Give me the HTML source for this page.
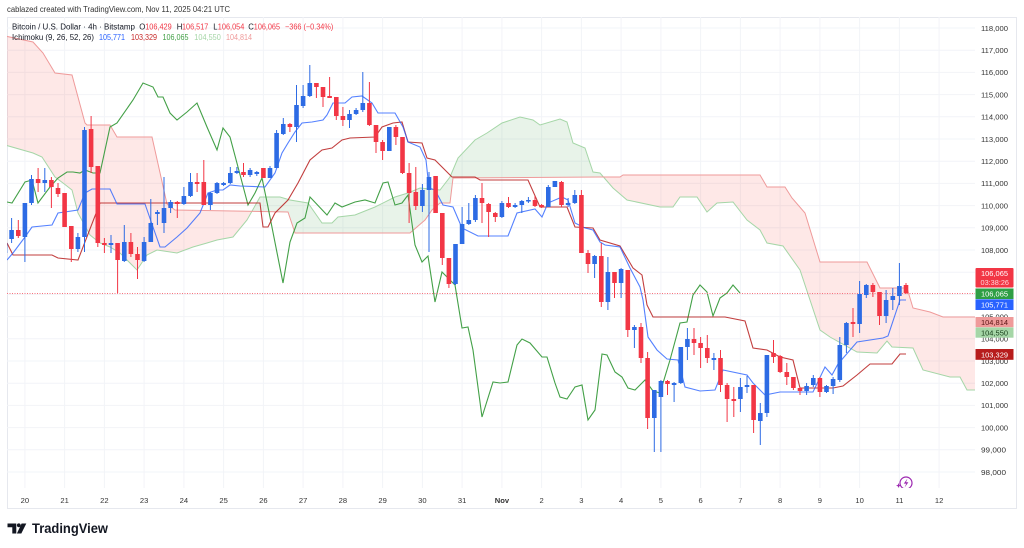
<!DOCTYPE html>
<html><head><meta charset="utf-8">
<style>
html,body{margin:0;padding:0;background:#fff;}
svg{display:block;font-family:"Liberation Sans",sans-serif;}
</style></head>
<body>
<svg width="1024" height="548" viewBox="0 0 1024 548" xmlns="http://www.w3.org/2000/svg">
<defs>
<clipPath id="pane"><rect x="7" y="17" width="968" height="471"/></clipPath>
<clipPath id="pinkL"><rect x="0" y="0" width="252" height="548"/></clipPath>
<clipPath id="pinkR"><rect x="603.5" y="0" width="380" height="548"/></clipPath>
<clipPath id="grn"><rect x="252" y="0" width="351.5" height="548"/></clipPath>
</defs>
<rect width="1024" height="548" fill="#fff"/>
<text x="7" y="12" font-size="8" fill="#333" textLength="223" lengthAdjust="spacingAndGlyphs">cablazed created with TradingView.com, Nov 11, 2025 04:21 UTC</text>
<rect x="7.5" y="17.5" width="1009" height="491" fill="none" stroke="#e6e8ee" stroke-width="1"/>

<g clip-path="url(#pane)">
<g stroke="#f2f4f8" stroke-width="1">
<path d="M7 28H975M7 50.2H975M7 72.4H975M7 94.6H975M7 116.8H975M7 139H975M7 161.2H975M7 183.4H975M7 205.6H975M7 227.8H975M7 250H975M7 272.2H975M7 294.4H975M7 316.6H975M7 338.8H975M7 361H975M7 383.2H975M7 405.4H975M7 427.6H975M7 449.8H975M7 472H975"/>
<path d="M24.9 17V488M64.6 17V488M104.4 17V488M144.1 17V488M183.9 17V488M223.6 17V488M263.4 17V488M303.1 17V488M342.9 17V488M382.6 17V488M422.4 17V488M462.1 17V488M501.9 17V488M541.6 17V488M581.4 17V488M621.1 17V488M660.9 17V488M700.6 17V488M740.4 17V488M780.1 17V488M819.9 17V488M859.6 17V488M899.4 17V488M939.1 17V488"/>
</g>

<!-- cloud -->
<g>
<path clip-path="url(#pinkL)" fill="#f44336" fill-opacity="0.12" d="M5 145L33 153L42 157L55 177L63 183L72 190L78 213L90 235L100 243L110 247L120 253L137 270L147 255L157 250L177 253L193 247L207 243L217 240L233 237L247 220L260 197L280 197L290 200L308 203L322 223L332 223L338 217L355 215L375 207L395 197L408 193L420 188L440 190L450 177L458 158L475 140L487 133L502 123L520 117L533 120L540 125L560 119L567 122L573 143L585 148L593 172L600 173L613 188L627 200L660 207L673 207L680 197L697 197L707 212L717 203L733 202L747 220L760 230L767 243L783 246L800 270L820 330L830 337L857 352L877 353L887 341L892 347L913 348L923 370L950 377L960 377L967 390L976 390L976 317L943 317L930 312L913 308L907 288L880 288L867 262L820 262L805 213L792 198L785 187L767 187L760 175L623 175L620 177L600 177L453 178L450 203L440 203L432 210L425 220L410 233L295 233L288 212L175 210L167 204L152 137L117 137L110 125L87 125L85 123L72 75L55 73L43 53L33 42L5 36Z"/>
<path clip-path="url(#pinkR)" fill="#f44336" fill-opacity="0.12" d="M5 145L33 153L42 157L55 177L63 183L72 190L78 213L90 235L100 243L110 247L120 253L137 270L147 255L157 250L177 253L193 247L207 243L217 240L233 237L247 220L260 197L280 197L290 200L308 203L322 223L332 223L338 217L355 215L375 207L395 197L408 193L420 188L440 190L450 177L458 158L475 140L487 133L502 123L520 117L533 120L540 125L560 119L567 122L573 143L585 148L593 172L600 173L613 188L627 200L660 207L673 207L680 197L697 197L707 212L717 203L733 202L747 220L760 230L767 243L783 246L800 270L820 330L830 337L857 352L877 353L887 341L892 347L913 348L923 370L950 377L960 377L967 390L976 390L976 317L943 317L930 312L913 308L907 288L880 288L867 262L820 262L805 213L792 198L785 187L767 187L760 175L623 175L620 177L600 177L453 178L450 203L440 203L432 210L425 220L410 233L295 233L288 212L175 210L167 204L152 137L117 137L110 125L87 125L85 123L72 75L55 73L43 53L33 42L5 36Z"/>
<path clip-path="url(#grn)" fill="#43a047" fill-opacity="0.12" d="M5 145L33 153L42 157L55 177L63 183L72 190L78 213L90 235L100 243L110 247L120 253L137 270L147 255L157 250L177 253L193 247L207 243L217 240L233 237L247 220L260 197L280 197L290 200L308 203L322 223L332 223L338 217L355 215L375 207L395 197L408 193L420 188L440 190L450 177L458 158L475 140L487 133L502 123L520 117L533 120L540 125L560 119L567 122L573 143L585 148L593 172L600 173L613 188L627 200L660 207L673 207L680 197L697 197L707 212L717 203L733 202L747 220L760 230L767 243L783 246L800 270L820 330L830 337L857 352L877 353L887 341L892 347L913 348L923 370L950 377L960 377L967 390L976 390L976 317L943 317L930 312L913 308L907 288L880 288L867 262L820 262L805 213L792 198L785 187L767 187L760 175L623 175L620 177L600 177L453 178L450 203L440 203L432 210L425 220L410 233L295 233L288 212L175 210L167 204L152 137L117 137L110 125L87 125L85 123L72 75L55 73L43 53L33 42L5 36Z"/>
</g>
<polyline fill="none" stroke="#a5d6a7" stroke-width="1" points="5,145 33,153 42,157 55,177 63,183 72,190 78,213 90,235 100,243 110,247 120,253 137,270 147,255 157,250 177,253 193,247 207,243 217,240 233,237 247,220 260,197 280,197 290,200 308,203 322,223 332,223 338,217 355,215 375,207 395,197 408,193 420,188 440,190 450,177 458,158 475,140 487,133 502,123 520,117 533,120 540,125 560,119 567,122 573,143 585,148 593,172 600,173 613,188 627,200 660,207 673,207 680,197 697,197 707,212 717,203 733,202 747,220 760,230 767,243 783,246 800,270 820,330 830,337 857,352 877,353 887,341 892,347 913,348 923,370 950,377 960,377 967,390 976,390"/>
<polyline fill="none" stroke="#ef9a9a" stroke-width="1" points="976,317 943,317 930,312 913,308 907,288 880,288 867,262 820,262 805,213 792,198 785,187 767,187 760,175 623,175 620,177 600,177 453,178 450,203 440,203 432,210 425,220 410,233 295,233 288,212 175,210 167,204 152,137 117,137 110,125 87,125 85,123 72,75 55,73 43,53 33,42 5,36"/>

<!-- lagging span -->
<polyline fill="none" stroke="#43a047" stroke-width="1.1" points="7,202 12,203 25,182 32,180 38,203 50,187 58,178 67,172 73,172 80,173 85,170 93,173 100,173 110,127 117,123 133,100 143,83 153,87 158,97 163,97 170,113 177,120 187,112 197,103 207,127 217,150 223,128 230,137 238,167 248,205 255,193 262,178 268,207 283,283 290,242 297,223 305,218 310,197 327,215 335,203 342,207 355,202 365,200 375,203 383,183 388,182 395,205 402,203 408,195 415,245 422,262 428,256 435,302 442,272 455,285 462,328 468,327 473,350 482,417 493,382 500,383 508,382 517,345 522,339 530,343 542,357 547,357 555,383 560,397 567,399 575,387 582,385 588,420 595,410 602,354 607,355 615,372 622,377 628,388 635,390 645,380 653,391 660,393 670,360 680,323 687,322 693,295 700,285 707,292 713,316 720,298 727,293 733,285 740,293"/>
<!-- kijun -->
<polyline fill="none" stroke="#b71c1c" stroke-opacity="0.85" stroke-width="1.1" points="7,243 13,255 52,255 58,258 78,260 100,203 260,203 263,227 268,227 275,213 288,200 298,183 310,160 322,150 332,148 342,140 350,138 375,137 382,127 393,123 402,122 408,142 422,143 427,158 435,160 452,177 475,177 480,180 528,180 540,207 567,207 575,227 593,228 600,240 620,246 633,268 642,275 647,305 653,317 725,317 745,321 753,348 767,350 780,357 793,360 800,388 833,388 843,386 857,375 870,364 892,364 900,354 906,354"/>
<!-- tenkan -->
<polyline fill="none" stroke="#2962ff" stroke-opacity="0.8" stroke-width="1.1" points="7,260 13,253 25,237 32,227 52,225 58,213 78,210 85,193 92,189 110,189 117,204 145,204 153,227 160,247 165,247 177,237 187,228 200,213 208,193 217,190 223,190 230,185 240,186 265,187 275,173 282,153 288,143 295,132 302,123 312,122 323,120 327,115 333,103 345,103 352,97 362,96 372,103 378,113 395,113 403,127 408,142 420,147 426,160 429,188 435,190 443,205 453,207 462,228 478,236 508,236 517,213 535,209 542,217 548,203 562,197 568,200 575,223 585,228 593,230 600,242 605,245 620,247 630,268 640,287 643,300 648,337 657,350 667,359 678,360 685,387 700,391 715,390 723,370 747,375 753,383 765,395 780,392 813,392 825,367 832,375 838,364 857,342 883,338 888,336 900,300 906,300"/>

<!-- current price line -->
<path d="M7 293.5H975" stroke="#f7707c" stroke-width="1" stroke-dasharray="1 1.5"/>

<!-- candles -->
<path fill="none" stroke="#2d6be4" stroke-width="1" d="M5 240V255M11.6 218V243M24.9 203V262M31.5 175V205M44.8 168V192M77.9 233V252M84.5 127V252M111 235V253M124.3 225V262M144.1 237V262M150.8 199V242M157.4 210V225M164 177V233M170.6 200V213M183.9 187V205M190.5 173V197M210.4 192V210M217 182V194M223.6 182V186M230.3 167V184M236.9 167V174M250.1 168V177M256.8 171V176M270 166V178M276.6 130V168M283.3 118V135M296.5 85V142M303.1 85V108M309.8 65V97M349.5 110V128M356.1 108V115M362.8 72V112M389.3 127V151M422.4 184V212M429 172V252M455.5 244V285M462.1 207V244M468.8 203V225M475.4 195V222M501.9 201V218M515.1 203V208M521.8 200V213M528.4 197V203M548.3 185V207M554.9 181V187M568.1 198V207M574.8 190V204M594.6 255V278M607.9 257V310M621.1 268V298M634.4 325V348M654.3 390V452M660.9 380V452M674.1 382V402M680.8 347V384M687.4 328V360M713.9 353V370M740.4 378V412M747 376V393M760.3 403V445M766.9 355V417M806.6 383V395M813.3 375V387M826.5 385V393M833.1 377V394M839.8 337V382M846.4 322V353M859.6 281V333M866.3 284V298M886.1 290V323M892.8 288V310M899.4 263V305"/>
<path fill="none" stroke="#f23645" stroke-width="1" d="M18.3 220V238M38.1 168V192M51.4 177V208M58 183V197M64.6 193V227M71.3 226V262M91.1 116V173M97.8 166V247M104.4 238V253M117.6 243V293M130.9 233V257M137.5 247V279M177.3 201V218M197.1 173V192M203.8 160V205M243.5 163V177M263.4 168V178M289.9 123V132M316.4 83V98M323 87V107M329.6 77V98M336.3 97V120M342.9 107V126M369.4 82V126M376 125V153M382.6 140V160M395.9 125V145M402.5 137V174M409.1 163V223M415.8 167V210M435.6 176V213M442.3 213V265M448.9 258V288M482 183V223M488.6 203V237M495.3 212V222M508.5 197V208M535 196V207M541.6 204V208M561.5 181V207M581.4 190V253M588 250V273M601.3 243V307M614.5 272V298M627.8 270V337M641 323V363M647.6 352V429M667.5 380V395M694 328V355M700.6 337V368M707.3 335V363M720.5 350V392M727.1 383V422M733.8 387V417M753.6 385V433M773.5 340V363M780.1 355V373M786.8 363V385M793.4 377V390M800 387V395M819.9 377V397M853 308V337M872.9 283V297M879.5 292V325M906 283V294"/>
<path fill="#2d6be4" d="M2.7 243h4.6V253h-4.6ZM9.3 230h4.6V239h-4.6ZM22.6 203h4.6V237h-4.6ZM29.2 179h4.6V203h-4.6ZM42.5 180h4.6V183h-4.6ZM75.6 237h4.6V249h-4.6ZM82.2 130h4.6V237h-4.6ZM108.7 243h4.6V245h-4.6ZM122 242h4.6V261h-4.6ZM141.8 242h4.6V261h-4.6ZM148.5 223h4.6V242h-4.6ZM155.1 212h4.6V214h-4.6ZM161.7 208h4.6V223h-4.6ZM168.3 202h4.6V208h-4.6ZM181.6 196h4.6V204h-4.6ZM188.2 182h4.6V196h-4.6ZM208.1 193h4.6V205h-4.6ZM214.7 183h4.6V193h-4.6ZM221.3 183h4.6V185h-4.6ZM228 173h4.6V183h-4.6ZM234.6 171h4.6V173h-4.6ZM247.8 170h4.6V175h-4.6ZM254.5 172h4.6V174h-4.6ZM267.7 168h4.6V178h-4.6ZM274.3 133h4.6V168h-4.6ZM281 124h4.6V134h-4.6ZM294.2 105h4.6V127h-4.6ZM300.8 96h4.6V106h-4.6ZM307.5 83h4.6V96h-4.6ZM347.2 114h4.6V120h-4.6ZM353.8 110h4.6V114h-4.6ZM360.5 103h4.6V110h-4.6ZM387 127h4.6V151h-4.6ZM420.1 190h4.6V206h-4.6ZM426.7 177h4.6V190h-4.6ZM453.2 244h4.6V284h-4.6ZM459.8 224h4.6V244h-4.6ZM466.5 220h4.6V224h-4.6ZM473.1 198h4.6V220h-4.6ZM499.6 203h4.6V217h-4.6ZM512.8 205h4.6V207h-4.6ZM519.5 201h4.6V205h-4.6ZM526.1 200h4.6V201.5h-4.6ZM546 187h4.6V207h-4.6ZM552.6 181h4.6V187h-4.6ZM565.8 203h4.6V205h-4.6ZM572.5 195h4.6V203h-4.6ZM592.3 256h4.6V264h-4.6ZM605.6 272h4.6V302h-4.6ZM618.8 269h4.6V283h-4.6ZM632.1 327h4.6V330h-4.6ZM652 390h4.6V418h-4.6ZM658.6 381h4.6V397h-4.6ZM671.8 383h4.6V385h-4.6ZM678.5 347h4.6V383h-4.6ZM685.1 339h4.6V347h-4.6ZM711.6 358h4.6V360h-4.6ZM738.1 387h4.6V399h-4.6ZM744.7 385h4.6V387h-4.6ZM758 413h4.6V421h-4.6ZM764.6 355h4.6V413h-4.6ZM804.3 386h4.6V391h-4.6ZM811 378h4.6V385h-4.6ZM824.2 386h4.6V392h-4.6ZM830.8 379h4.6V386h-4.6ZM837.5 345h4.6V380h-4.6ZM844.1 323h4.6V345h-4.6ZM857.3 294h4.6V324h-4.6ZM864 285h4.6V295h-4.6ZM883.8 300h4.6V316h-4.6ZM890.5 296h4.6V300h-4.6ZM897.1 286h4.6V296h-4.6Z"/>
<path fill="#f23645" d="M16 230h4.6V236h-4.6ZM35.8 179h4.6V183h-4.6ZM49.1 180h4.6V187h-4.6ZM55.7 188h4.6V194h-4.6ZM62.3 193h4.6V227h-4.6ZM69 226h4.6V249h-4.6ZM88.8 129h4.6V167h-4.6ZM95.5 166h4.6V243h-4.6ZM102.1 243h4.6V245h-4.6ZM115.3 243h4.6V260h-4.6ZM128.6 242h4.6V254h-4.6ZM135.2 254h4.6V260h-4.6ZM175 202h4.6V204h-4.6ZM194.8 182h4.6V184h-4.6ZM201.5 182h4.6V205h-4.6ZM241.2 172h4.6V175h-4.6ZM261.1 168h4.6V178h-4.6ZM287.6 124h4.6V127h-4.6ZM314.1 83h4.6V87h-4.6ZM320.7 87h4.6V97h-4.6ZM327.3 96h4.6V98h-4.6ZM334 97h4.6V116h-4.6ZM340.6 116h4.6V120h-4.6ZM367.1 103h4.6V125h-4.6ZM373.7 125h4.6V142h-4.6ZM380.3 142h4.6V151h-4.6ZM393.6 127h4.6V137h-4.6ZM400.2 137h4.6V173h-4.6ZM406.8 173h4.6V193h-4.6ZM413.5 192h4.6V206h-4.6ZM433.3 176h4.6V213h-4.6ZM440 213h4.6V258h-4.6ZM446.6 258h4.6V284h-4.6ZM479.7 198h4.6V203h-4.6ZM486.3 204h4.6V212h-4.6ZM493 213h4.6V217h-4.6ZM506.2 203h4.6V207h-4.6ZM532.7 200h4.6V206h-4.6ZM539.3 205h4.6V207h-4.6ZM559.2 182h4.6V205h-4.6ZM579.1 195h4.6V253h-4.6ZM585.7 253h4.6V264h-4.6ZM599 256h4.6V302h-4.6ZM612.2 272h4.6V283h-4.6ZM625.5 270h4.6V330h-4.6ZM638.7 327h4.6V358h-4.6ZM645.3 358h4.6V418h-4.6ZM665.2 381h4.6V384h-4.6ZM691.7 339h4.6V343h-4.6ZM698.3 343h4.6V348h-4.6ZM705 348h4.6V358h-4.6ZM718.2 358h4.6V385h-4.6ZM724.8 385h4.6V399h-4.6ZM731.5 399h4.6V401h-4.6ZM751.3 385h4.6V420h-4.6ZM771.2 353h4.6V357h-4.6ZM777.8 356h4.6V372h-4.6ZM784.5 372h4.6V377h-4.6ZM791.1 377h4.6V388h-4.6ZM797.7 388h4.6V391h-4.6ZM817.6 378h4.6V392h-4.6ZM850.7 322h4.6V324h-4.6ZM870.6 285h4.6V292h-4.6ZM877.2 292h4.6V316h-4.6ZM903.7 285h4.6V293h-4.6Z"/>

<!-- purple icon -->
<circle cx="906" cy="483" r="6" fill="#fff" stroke="#9c27b0" stroke-width="1.2"/>
<path d="M907.5 478.5L903.8 483.6H906.2L904.6 487.5L908.4 482.2H906L907.5 478.5Z" fill="#9c27b0"/>
<path d="M898.5 483L899.2 485L901 485.6L899.2 486.3L898.5 488L897.8 486.3L896 485.6L897.8 485Z" fill="#9c27b0"/>
</g>

<!-- legend -->
<g font-size="7.8">
<text x="12" y="29.5" fill="#131722" textLength="123" lengthAdjust="spacingAndGlyphs">Bitcoin / U.S. Dollar · 4h · Bitstamp</text>
<text x="139.3" y="29.5" fill="#131722">O</text><text x="145.2" y="29.5" fill="#f23645" textLength="26.5" lengthAdjust="spacingAndGlyphs">106,429</text>
<text x="176.7" y="29.5" fill="#131722">H</text><text x="182" y="29.5" fill="#f23645" textLength="26.3" lengthAdjust="spacingAndGlyphs">106,517</text>
<text x="213.3" y="29.5" fill="#131722">L</text><text x="217.8" y="29.5" fill="#f23645" textLength="26.5" lengthAdjust="spacingAndGlyphs">106,054</text>
<text x="248.3" y="29.5" fill="#131722">C</text><text x="253.8" y="29.5" fill="#f23645" textLength="26.2" lengthAdjust="spacingAndGlyphs">106,065</text>
<text x="285" y="29.5" fill="#f23645" textLength="48.3" lengthAdjust="spacingAndGlyphs">−366 (−0.34%)</text>
<text x="12" y="40.2" fill="#131722" textLength="82" lengthAdjust="spacingAndGlyphs">Ichimoku (9, 26, 52, 26)</text>
<text x="99" y="40.2" fill="#2962ff" textLength="26" lengthAdjust="spacingAndGlyphs">105,771</text>
<text x="131" y="40.2" fill="#c62828" textLength="26" lengthAdjust="spacingAndGlyphs">103,329</text>
<text x="162.5" y="40.2" fill="#43a047" textLength="26" lengthAdjust="spacingAndGlyphs">106,065</text>
<text x="194.3" y="40.2" fill="#a5d6a7" textLength="26.5" lengthAdjust="spacingAndGlyphs">104,550</text>
<text x="226" y="40.2" fill="#ef9a9a" textLength="26" lengthAdjust="spacingAndGlyphs">104,814</text>
</g>

<!-- price axis labels -->
<g font-size="7.6" fill="#333">
<text x="981" y="30.8" textLength="27" lengthAdjust="spacingAndGlyphs">118,000</text>
<text x="981" y="53" textLength="27" lengthAdjust="spacingAndGlyphs">117,000</text>
<text x="981" y="75.2" textLength="27" lengthAdjust="spacingAndGlyphs">116,000</text>
<text x="981" y="97.4" textLength="27" lengthAdjust="spacingAndGlyphs">115,000</text>
<text x="981" y="119.6" textLength="27" lengthAdjust="spacingAndGlyphs">114,000</text>
<text x="981" y="141.8" textLength="27" lengthAdjust="spacingAndGlyphs">113,000</text>
<text x="981" y="164" textLength="27" lengthAdjust="spacingAndGlyphs">112,000</text>
<text x="981" y="186.2" textLength="27" lengthAdjust="spacingAndGlyphs">111,000</text>
<text x="981" y="208.4" textLength="27" lengthAdjust="spacingAndGlyphs">110,000</text>
<text x="981" y="230.6" textLength="27" lengthAdjust="spacingAndGlyphs">109,000</text>
<text x="981" y="252.8" textLength="27" lengthAdjust="spacingAndGlyphs">108,000</text>
<text x="981" y="275" textLength="27" lengthAdjust="spacingAndGlyphs">107,000</text>
<text x="981" y="319.4" textLength="27" lengthAdjust="spacingAndGlyphs">105,000</text>
<text x="981" y="341.6" textLength="27" lengthAdjust="spacingAndGlyphs">104,000</text>
<text x="981" y="363.8" textLength="27" lengthAdjust="spacingAndGlyphs">103,000</text>
<text x="981" y="386" textLength="27" lengthAdjust="spacingAndGlyphs">102,000</text>
<text x="981" y="408.2" textLength="27" lengthAdjust="spacingAndGlyphs">101,000</text>
<text x="981" y="430.4" textLength="27" lengthAdjust="spacingAndGlyphs">100,000</text>
<text x="981" y="452.6" textLength="25" lengthAdjust="spacingAndGlyphs">99,000</text>
<text x="981" y="474.8" textLength="25" lengthAdjust="spacingAndGlyphs">98,000</text>
</g>

<!-- price tags -->
<g font-size="7.6">
<rect x="975.5" y="268" width="38" height="19.5" rx="1" fill="#f23645"/>
<text x="981" y="276" fill="#fff" textLength="27" lengthAdjust="spacingAndGlyphs">106,065</text>
<text x="980.5" y="285" fill="#ffd6da" textLength="28.5" lengthAdjust="spacingAndGlyphs">03:38:26</text>
<rect x="975.5" y="288.5" width="38" height="10.5" fill="#2e9e44"/>
<text x="981" y="296.6" fill="#fff" textLength="27" lengthAdjust="spacingAndGlyphs">106,065</text>
<rect x="975.5" y="299.3" width="38" height="10.7" fill="#2962ff"/>
<text x="981" y="307.5" fill="#fff" textLength="27" lengthAdjust="spacingAndGlyphs">105,771</text>
<rect x="975.5" y="317" width="38" height="10.2" fill="#ef9a9a"/>
<text x="981" y="325" fill="#5a1414" textLength="27" lengthAdjust="spacingAndGlyphs">104,814</text>
<rect x="975.5" y="327.4" width="38" height="10.3" fill="#a5d6a7"/>
<text x="981" y="335.5" fill="#173d19" textLength="27" lengthAdjust="spacingAndGlyphs">104,550</text>
<rect x="975.5" y="349" width="38" height="10.8" fill="#b71c1c"/>
<text x="981" y="357.3" fill="#fff" textLength="27" lengthAdjust="spacingAndGlyphs">103,329</text>
</g>

<!-- time axis -->
<g font-size="7.6" fill="#333" text-anchor="middle">
<text x="24.9" y="503">20</text><text x="64.6" y="503">21</text><text x="104.4" y="503">22</text><text x="144.1" y="503">23</text><text x="183.9" y="503">24</text><text x="223.6" y="503">25</text><text x="263.4" y="503">26</text><text x="303.1" y="503">27</text><text x="342.9" y="503">28</text><text x="382.6" y="503">29</text><text x="422.4" y="503">30</text><text x="462.1" y="503">31</text><text x="501.9" y="503" font-weight="bold">Nov</text><text x="541.6" y="503">2</text><text x="581.4" y="503">3</text><text x="621.1" y="503">4</text><text x="660.9" y="503">5</text><text x="700.6" y="503">6</text><text x="740.4" y="503">7</text><text x="780.1" y="503">8</text><text x="819.9" y="503">9</text><text x="859.6" y="503">10</text><text x="899.4" y="503">11</text><text x="939.1" y="503">12</text>
</g>

<!-- logo -->
<g fill="#131722">
<path d="M7.5 523.5H16.3V533.5H12.3V527.2H7.5Z"/>
<circle cx="18.8" cy="525.3" r="1.9"/>
<path d="M21.6 523.5H26.3L21.3 533.5H16.9Z"/>
<text x="32" y="533" font-size="13.5" font-weight="bold" textLength="76" lengthAdjust="spacingAndGlyphs">TradingView</text>
</g>
</svg>
</body></html>
